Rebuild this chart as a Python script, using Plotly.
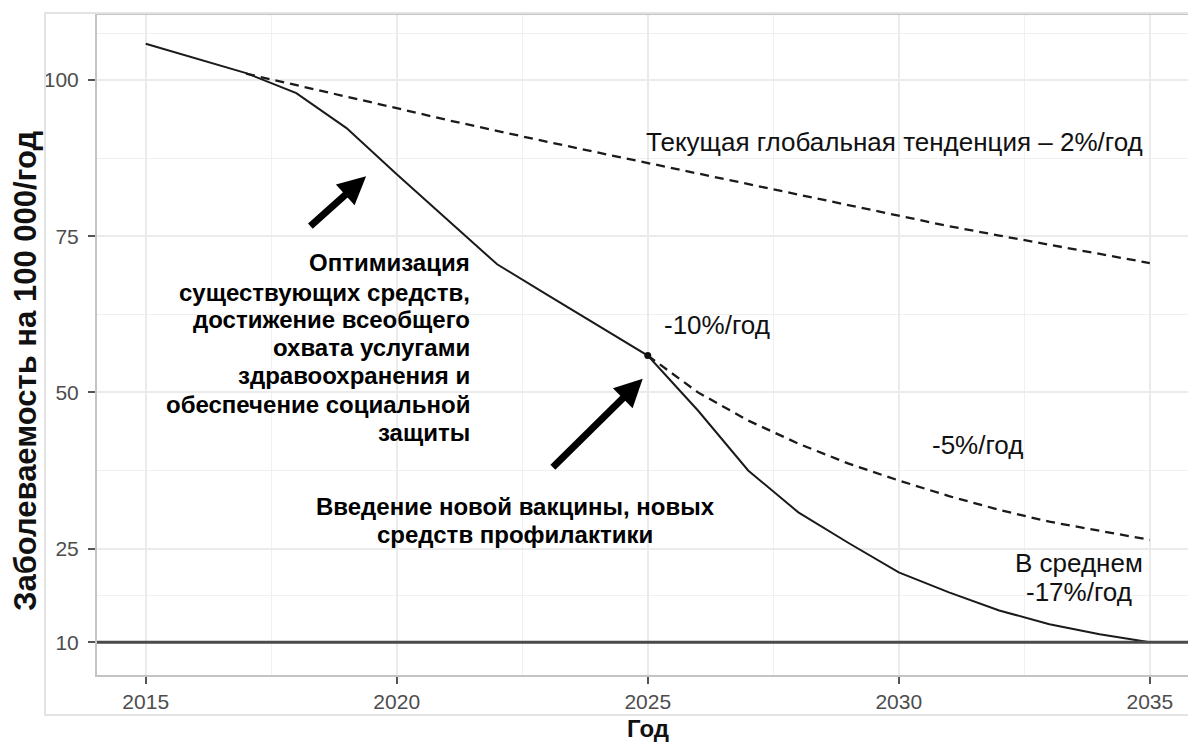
import plotly.graph_objects as go

# ---------------- data ----------------
years_path = list(range(2015, 2036))
incidence_path = [105.8, 103.4, 101.1, 97.9, 92.3, 84.9, 77.7, 70.5, 65.6, 60.7,
                  55.9, 47.1, 37.5, 30.8, 25.9, 21.2, 18.0, 15.1, 12.9, 11.3, 10.0]

years_trend2 = list(range(2017, 2036))
incidence_trend2 = [101.0, 99.2, 97.3, 95.5, 93.6, 91.8, 90.1, 88.4, 86.7, 85.0,
                    83.3, 81.6, 79.9, 78.2, 76.6, 75.1, 73.6, 72.1, 70.7]

years_trend5 = list(range(2025, 2036))
incidence_trend5 = [55.9, 50.0, 45.5, 41.8, 38.6, 35.9, 33.4, 31.2, 29.3, 27.8, 26.4]

milestone_year = [2025]
milestone_value = [55.9]

target_value = 10

x_ticks = [2015, 2020, 2025, 2030, 2035]
x_minor = [2017.5, 2022.5, 2027.5, 2032.5]
y_ticks = [10, 25, 50, 75, 100]
y_minor = [17.5, 37.5, 62.5, 87.5, 107.5]

x_title = "Год"
y_title = "Заболеваемость на 100 000/год"

label_trend2 = "Текущая глобальная тенденция – 2%/год"
label_10 = "-10%/год"
label_5 = "-5%/год"
label_avg = ["В среднем", "-17%/год"]
label_opt = ["Оптимизация", "существующих средств,", "достижение всеобщего",
             "охвата услугами", "здравоохранения и", "обеспечение социальной", "защиты"]
label_vacc = ["Введение новой вакцины, новых", "средств профилактики"]

# ---------------- figure ----------------
fig = go.Figure()

fig.add_trace(go.Scatter(x=years_trend2, y=incidence_trend2, mode="lines",
                         line=dict(color="#1a1a1a", width=2.3, dash="9px,6px"),
                         showlegend=False, hoverinfo="skip"))
fig.add_trace(go.Scatter(x=years_trend5, y=incidence_trend5, mode="lines",
                         line=dict(color="#1a1a1a", width=2.3, dash="9px,6px"),
                         showlegend=False, hoverinfo="skip"))
fig.add_trace(go.Scatter(x=years_path, y=incidence_path, mode="lines",
                         line=dict(color="#1a1a1a", width=2),
                         showlegend=False, hoverinfo="skip"))
fig.add_trace(go.Scatter(x=milestone_year, y=milestone_value, mode="markers",
                         marker=dict(color="#111111", size=7),
                         showlegend=False, hoverinfo="skip"))

reg_font = dict(family="Liberation Sans, Arial, sans-serif", size=26, color="#111111")
bold_font = dict(family="Liberation Sans, Arial, sans-serif", size=24, color="#000000",
                 weight="bold")

ann = []
ann.append(dict(x=2034.9, y=90.1, text=label_trend2, xanchor="right", yanchor="middle",
                showarrow=False, font=reg_font))
ann.append(dict(x=2025.28, y=60.8, text=label_10, xanchor="left", yanchor="middle",
                showarrow=False, font=reg_font))
ann.append(dict(x=2030.62, y=41.6, text=label_5, xanchor="left", yanchor="middle",
                showarrow=False, font=reg_font))
for txt, yv in zip(label_avg, [22.7, 18.05]):
    ann.append(dict(x=2033.58, y=yv, text=txt, xanchor="center", yanchor="middle",
                    showarrow=False, font=reg_font))
for txt, yv in zip(label_opt, [70.71, 65.91, 61.59, 57.11, 52.63, 48.14, 43.66]):
    ann.append(dict(x=2021.5, y=yv, text=txt, xanchor="right", yanchor="middle",
                    showarrow=False, font=bold_font))
for txt, yv in zip(label_vacc, [31.66, 27.18]):
    ann.append(dict(x=2022.36, y=yv, text=txt, xanchor="center", yanchor="middle",
                    showarrow=False, font=bold_font))

# arrows
for (tx, ty, hx, hy) in [(2018.25, 76.4, 2019.39, 84.6), (2023.08, 37.8, 2024.9, 52.2)]:
    ann.append(dict(x=hx, y=hy, ax=tx, ay=ty, xref="x", yref="y", axref="x", ayref="y",
                    text="", showarrow=True, arrowhead=2, arrowsize=0.8,
                    arrowwidth=7, arrowcolor="#000000"))

# axis titles
ann.append(dict(x=-0.0655, y=0.4606, xref="paper", yref="paper", text=y_title,
                textangle=-90, showarrow=False, xanchor="center", yanchor="middle",
                font=dict(family="Liberation Sans, Arial, sans-serif", size=31,
                          color="#111111", weight="bold")))
ann.append(dict(x=0.5014, y=-0.0818, xref="paper", yref="paper", text=x_title,
                showarrow=False, xanchor="center", yanchor="middle",
                font=dict(family="Liberation Sans, Arial, sans-serif", size=24,
                          color="#111111", weight="bold")))

# page body has an 8px margin -> figure drawn at (8, 8)
fig.update_layout(
    width=1188, height=736,
    margin=dict(l=89, r=0, t=7, b=69, autoexpand=False),
    paper_bgcolor="white", plot_bgcolor="white",
    annotations=ann,
    font=dict(family="Liberation Sans, Arial, sans-serif"),
)

# target line at 10
fig.add_hline(y=target_value, line=dict(color="#4a4a4a", width=3), layer="above")

# outer light frame
fig.add_shape(type="rect", xref="paper", yref="paper", x0=-0.0473, x1=1.02,
              y0=-0.0606, y1=1.003, line=dict(color="#e3e3e3", width=2),
              fillcolor="rgba(0,0,0,0)", layer="above")

fig.update_xaxes(
    range=[2014.03, 2035.92], tickmode="array", tickvals=x_ticks,
    ticks="outside", ticklen=7, tickwidth=2, tickcolor="#555555",
    tickfont=dict(size=21, color="#4d4d4d"), ticklabelstandoff=0,
    showgrid=True, gridcolor="#ebebeb", gridwidth=1.5,
    minor=dict(tickmode="array", tickvals=x_minor, showgrid=True,
               gridcolor="#f0f0f0", gridwidth=1),
    showline=True, linecolor="#c4c4c4", linewidth=2, mirror=True,
    zeroline=False, automargin=False,
)
fig.update_yaxes(
    range=[4.77, 110.4], tickmode="array", tickvals=y_ticks,
    ticks="outside", ticklen=7, tickwidth=2, tickcolor="#555555",
    tickfont=dict(size=21, color="#4d4d4d"), ticklabelstandoff=5,
    showgrid=True, gridcolor="#ebebeb", gridwidth=1.5,
    minor=dict(tickmode="array", tickvals=y_minor, showgrid=True,
               gridcolor="#f0f0f0", gridwidth=1),
    showline=True, linecolor="#c4c4c4", linewidth=2, mirror=False,
    zeroline=False, automargin=False,
)

fig.write_html("out.html")
